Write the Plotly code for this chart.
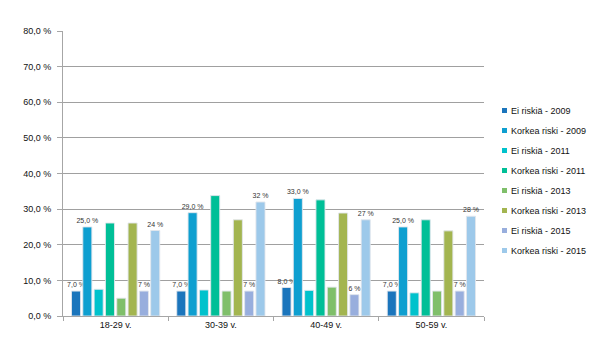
import plotly.graph_objects as go

categories = ["18-29 v.", "30-39 v.", "40-49 v.", "50-59 v."]
series_names = ["Ei riskiä - 2009", "Korkea riski - 2009", "Ei riskiä - 2011", "Korkea riski - 2011",
                "Ei riskiä - 2013", "Korkea riski - 2013", "Ei riskiä - 2015", "Korkea riski - 2015"]
ei_2009 = [7.0, 7.0, 8.0, 7.0]
korkea_2009 = [25.0, 29.0, 33.0, 25.0]
ei_2011 = [7.5, 7.3, 7.2, 6.5]
korkea_2011 = [26.1, 33.8, 32.6, 27.0]
ei_2013 = [5.0, 7.0, 8.1, 7.0]
korkea_2013 = [26.1, 27.0, 28.9, 23.9]
ei_2015 = [7, 7, 6, 7]
korkea_2015 = [24, 32, 27, 28]
colors = ["#1B75BC", "#0E9FD0", "#00C2CC", "#00BF97", "#7FBF6A", "#A3B550", "#98AEDD", "#9DC9EA"]
y_ticks = [0, 10, 20, 30, 40, 50, 60, 70, 80]
y_tick_labels = ["0,0 %", "10,0 %", "20,0 %", "30,0 %", "40,0 %", "50,0 %", "60,0 %", "70,0 %", "80,0 %"]

series = [ei_2009, korkea_2009, ei_2011, korkea_2011, ei_2013, korkea_2013, ei_2015, korkea_2015]
label_fmt = {0: lambda v: f"{v:.1f}".replace(".", ",") + " %",
             1: lambda v: f"{v:.1f}".replace(".", ",") + " %",
             6: lambda v: f"{v:.0f} %",
             7: lambda v: f"{v:.0f} %"}

# the page body has an 8px margin, so the figure is drawn from (8, 8)
OFF = 8
W, H = 604, 348
ML, MR, MT, MB = 55, 128, 23, 40

fig = go.Figure()
for i, (name, vals) in enumerate(zip(series_names, series)):
    text = [label_fmt[i](v) for v in vals] if i in label_fmt else None
    fig.add_trace(go.Bar(
        x=categories, y=vals, name=name, showlegend=False,
        marker=dict(color=colors[i], line=dict(color="rgba(225,230,236,0.9)", width=1)),
        text=text, textposition="outside", cliponaxis=False, constraintext="none",
        textfont=dict(size=7, color="#333333"),
        hoverinfo="y+name",
    ))

# manual legend (small squares + text), positioned in page pixels
leg_x0 = 502 - OFF
leg_y0 = 110.5 - OFF
leg_step = 20
pw, ph = W - ML - MR, H - MT - MB
for i, name in enumerate(series_names):
    yc = leg_y0 + i * leg_step
    fig.add_shape(type="rect", xref="paper", yref="paper",
                  x0=(leg_x0 - ML) / pw, x1=(leg_x0 + 5 - ML) / pw,
                  y0=(H - MB - (yc + 2.5)) / ph, y1=(H - MB - (yc - 2.5)) / ph,
                  fillcolor=colors[i], line=dict(width=0))
    fig.add_annotation(xref="paper", yref="paper",
                       x=(leg_x0 + 7 - ML) / pw, y=(H - MB - yc) / ph,
                       text=name, showarrow=False, xanchor="left", yanchor="middle",
                       font=dict(size=9, color="#111111"))

fig.update_layout(
    width=W, height=H,
    margin=dict(l=ML, r=MR, t=MT, b=MB, autoexpand=False),
    paper_bgcolor="white", plot_bgcolor="white",
    font=dict(family="Liberation Sans, Arial, sans-serif", size=9, color="#111111"),
    barmode="group", bargap=0.14, bargroupgap=0.2,
    showlegend=False,
)
fig.update_xaxes(
    showline=True, linecolor="#A6A6A6", linewidth=1,
    ticks="outside", tickson="boundaries", ticklen=4, tickcolor="#A6A6A6",
    showgrid=False, tickfont=dict(size=9), automargin=False,
)
fig.update_yaxes(
    range=[0, 80], tickvals=y_ticks, ticktext=y_tick_labels,
    showline=True, linecolor="#A6A6A6", linewidth=1,
    ticks="outside", ticklen=5, tickcolor="#A6A6A6", ticklabelstandoff=4,
    showgrid=True, gridcolor="#A0A0A0", gridwidth=1, zeroline=False,
    tickfont=dict(size=9), automargin=False,
)
fig.write_html("out.html")
